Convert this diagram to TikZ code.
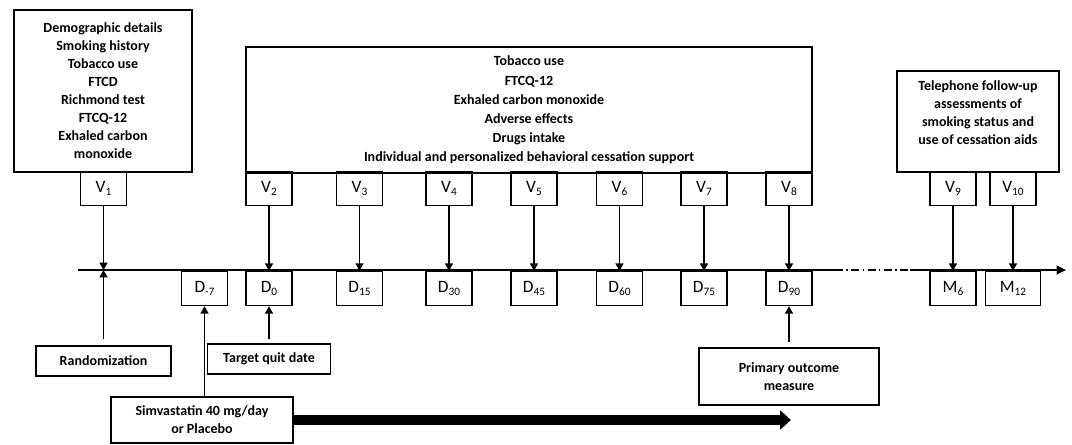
\documentclass[tikz,border=0pt]{standalone}
\usepackage{fontspec}
\setmainfont{Carlito}
\usepackage{tikz}
\usetikzlibrary{arrows.meta}
\newcommand{\tsub}[1]{\raisebox{-2.5pt}{\fontsize{8.5}{8.5}\selectfont #1}}

\begin{document}
\begin{tikzpicture}[x=0.75pt, y=-0.75pt,
    box/.style={draw, line width=1.1pt, align=center, inner sep=0pt, font=\bfseries\fontsize{10.5}{13.5}\selectfont},
    vdbox/.style={draw, line width=1.1pt, inner sep=0pt, minimum width=34.5pt, minimum height=25.5pt, font=\fontsize{13}{13}\selectfont},
    pointer/.style={line width=0.9pt, -{Triangle[length=5.5pt, width=6pt]}}]

        \useasboundingbox (0,0) rectangle (1072,445);

        % assessment boxes
        \node[box, minimum width=133.5pt, minimum height=121.5pt] (base) at (103,91) {Demographic details\\Smoking history\\Tobacco use\\FTCD\\Richmond test\\FTCQ-12\\Exhaled carbon\\monoxide};
        \node[box, minimum width=424.5pt, minimum height=94.5pt, font=\bfseries\fontsize{10.5}{14.4}\selectfont] (visits) at (529,110) {Tobacco use\\FTCQ-12\\Exhaled carbon monoxide\\Adverse effects\\Drugs intake\\Individual and personalized behavioral cessation support};
        \node[box, minimum width=121.5pt, minimum height=75.75pt] (phone) at (978,121.5) {Telephone follow-up\\assessments of\\smoking status and\\use of cessation aids\\\mbox{}};

        % visits and days
        \foreach \n/\x in {1/103.5, 2/269, 3/359.5, 4/449, 5/534, 6/619.5, 7/704, 8/789, 9/953, 10/1013}
            \node[vdbox] (v\n) at (\x,188.5) {V\tsub{\n}};
        \foreach \n/\x/\t in {m7/204.5/-7, 0/269/0, 15/359.5/15, 30/449/30, 45/534/45, 60/619.5/60, 75/704/75, 90/789/90}
            \node[vdbox] (d\n) at (\x,288.5) {D\tsub{\t}};
        \node[vdbox] (m6) at (953,288.5) {M\tsub{6}};
        \node[vdbox, minimum width=41.25pt] (m12) at (1013,288.5) {M\tsub{12}};

        % time line
        \coordinate (tl0) at (78,270);
        \coordinate (tl1) at (835,270);
        \coordinate (tl2) at (910,270);
        \coordinate (tl3) at (1066,270);
        \coordinate (rnd) at (103.5,270);
        \draw[line width=1.1pt] (tl0) -- (tl1);
        \draw[line width=1.1pt, dash pattern=on 6pt off 2.5pt on 1.2pt off 2.5pt] (tl1) -- (tl2);
        \draw[line width=1.1pt, -{Triangle[length=7pt, width=6.5pt]}] (tl2) -- (tl3);

        \draw[pointer] (v1.south) -- (rnd);
        \foreach \a/\b in {2/0, 3/15, 4/30, 5/45, 6/60, 7/75, 8/90}
            \draw[pointer] (v\a.south) -- (d\b.north);
        \draw[pointer] (v9.south) -- (m6.north);
        \draw[pointer] (v10.south) -- (m12.north);

        % events below the line
        \node[box, minimum width=101.25pt, minimum height=22.5pt] (rand) at (103.5,361) {Randomization};
        \node[box, minimum width=92.25pt, minimum height=22.5pt] (quit) at (269,359) {Target quit date};
        \node[box, minimum width=135pt, minimum height=42.75pt] (primary) at (789,376.5) {Primary outcome\\measure};
        \node[box, minimum width=136.5pt, minimum height=34.5pt] (drug) at (202,420) {Simvastatin 40 mg/day\\or Placebo};
        \coordinate (drugend) at (791,420);

        \draw[pointer, shorten <=4.5pt] (rand.north) -- (rnd);
        \draw[pointer, shorten <=3pt] (quit.north) -- (d0.south);
        \draw[pointer, shorten <=3.75pt] (primary.north) -- (d90.south);
        \draw[pointer] (drug.north -| dm7) -- (dm7.south);
        \draw[line width=7.5pt, -{Triangle[length=8.25pt, width=14.25pt]}] (drug.east) -- (drugend);

\end{tikzpicture}
\end{document}
